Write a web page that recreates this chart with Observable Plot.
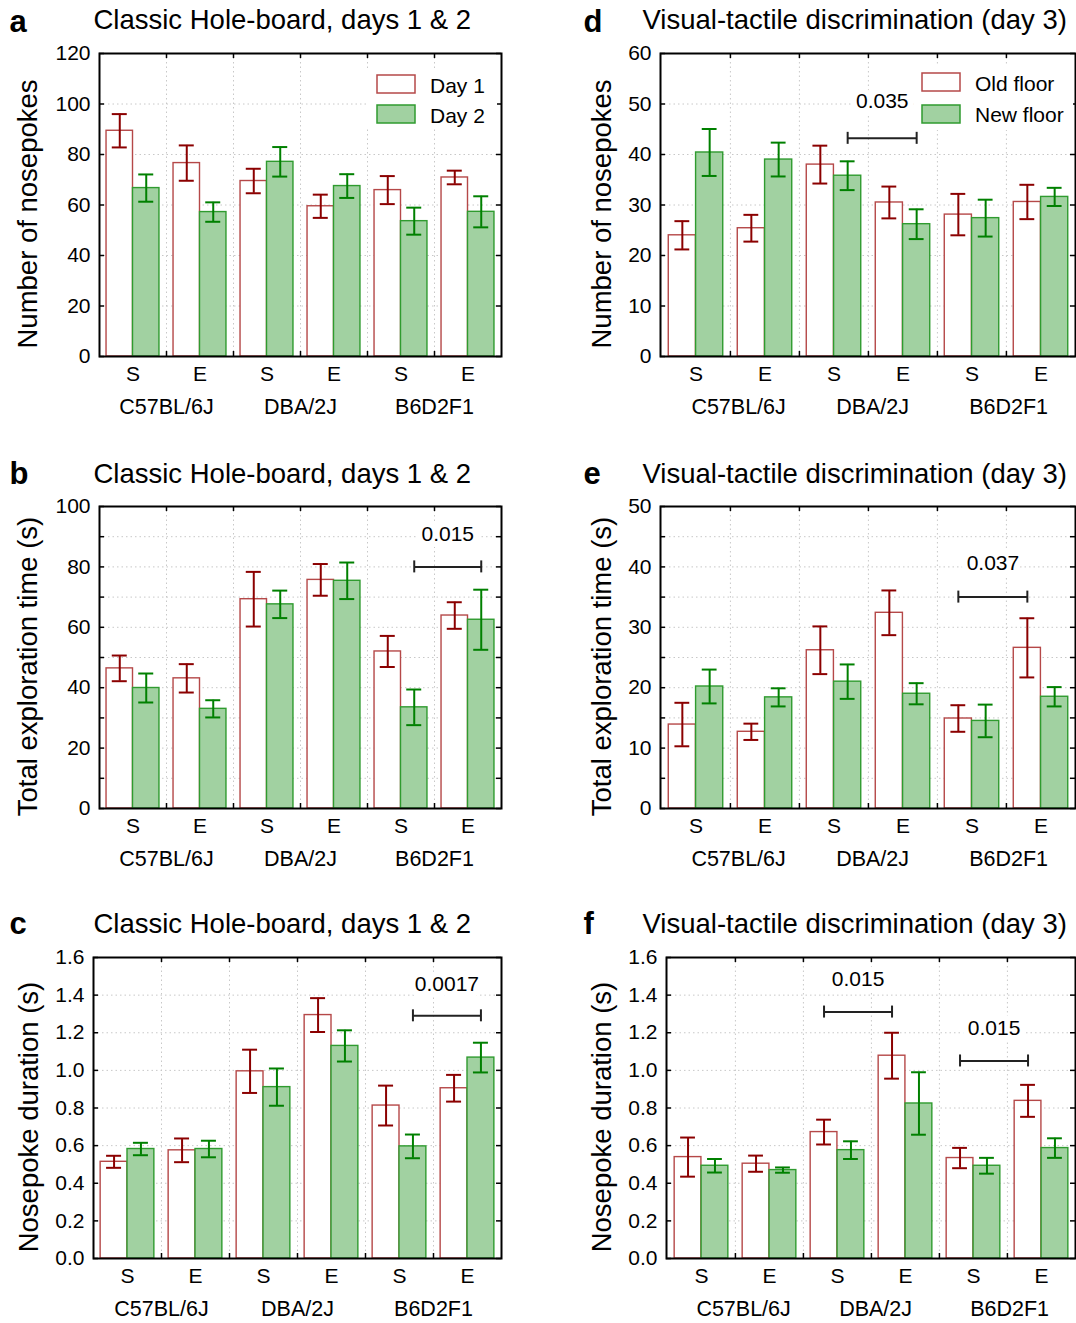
<!DOCTYPE html>
<html>
<head>
<meta charset="utf-8">
<script src="https://cdn.jsdelivr.net/npm/d3@7"></script>
<script src="https://cdn.jsdelivr.net/npm/@observablehq/plot@0.6"></script>
<style>
  html, body { margin: 0; padding: 0; background: #fff; }
  #root { position: relative; width: 1076px; height: 1323px; overflow: hidden; }
  .panel { position: absolute; }
</style>
</head>
<body>
<div id="root"></div>
<script>
// ---------------- data ----------------
const strains = ["C57BL/6J", "DBA/2J", "B6D2F1"];
const housing = ["S", "E"];
const seriesHB = ["Day 1", "Day 2"];
const seriesVT = ["Old floor", "New floor"];

// (a) Classic hole-board: number of nosepokes
const aDay1 = [89.4, 76.6, 69.5, 59.5, 65.9, 70.9];
const aDay1Sem = [6.6, 7.0, 4.85, 4.6, 5.55, 2.7];
const aDay2 = [66.7, 57.2, 77.1, 67.5, 53.6, 57.3];
const aDay2Sem = [5.4, 3.85, 5.85, 4.7, 5.35, 6.15];

// (b) Classic hole-board: total exploration time (s)
const bDay1 = [46.4, 43.1, 69.3, 75.7, 52.0, 63.9];
const bDay1Sem = [4.25, 4.7, 9.05, 5.25, 5.15, 4.4];
const bDay2 = [39.9, 33.0, 67.6, 75.4, 33.5, 62.5];
const bDay2Sem = [4.8, 2.85, 4.55, 6.05, 5.9, 9.95];

// (c) Classic hole-board: nosepoke duration (s)
const cDay1 = [0.514, 0.575, 0.995, 1.294, 0.813, 0.905];
const cDay1Sem = [0.032, 0.063, 0.115, 0.09, 0.106, 0.071];
const cDay2 = [0.582, 0.582, 0.911, 1.130, 0.596, 1.068];
const cDay2Sem = [0.033, 0.044, 0.099, 0.083, 0.063, 0.079];

// (d) Visual-tactile: number of nosepokes
const dOld = [24.0, 25.4, 38.0, 30.5, 28.1, 30.6];
const dOldSem = [2.8, 2.65, 3.75, 3.15, 4.1, 3.4];
const dNew = [40.4, 39.0, 35.8, 26.2, 27.4, 31.6];
const dNewSem = [4.65, 3.35, 2.85, 2.95, 3.65, 1.8];

// (e) Visual-tactile: total exploration time (s)
const eOld = [13.9, 12.7, 26.2, 32.4, 14.9, 26.6];
const eOldSem = [3.6, 1.35, 3.95, 3.7, 2.2, 4.9];
const eNew = [20.2, 18.4, 21.0, 19.0, 14.5, 18.5];
const eNewSem = [2.8, 1.5, 2.85, 1.75, 2.7, 1.6];

// (f) Visual-tactile: nosepoke duration (s)
const fOld = [0.539, 0.504, 0.672, 1.078, 0.534, 0.838];
const fOldSem = [0.104, 0.043, 0.066, 0.122, 0.054, 0.085];
const fNew = [0.493, 0.470, 0.576, 0.824, 0.493, 0.587];
const fNewSem = [0.036, 0.014, 0.047, 0.166, 0.042, 0.052];

// axis ticks
const ticksA = [0, 20, 40, 60, 80, 100, 120];
const ticksB = [0, 20, 40, 60, 80, 100];
const gridB = [0, 10, 20, 30, 40, 50, 60, 70, 80, 90, 100];
const ticksC = [0, 0.2, 0.4, 0.6, 0.8, 1.0, 1.2, 1.4, 1.6];
const ticksD = [0, 10, 20, 30, 40, 50, 60];
const ticksE = [0, 10, 20, 30, 40, 50];
const gridE = [0, 5, 10, 15, 20, 25, 30, 35, 40, 45, 50];
const ticksF = [0, 0.2, 0.4, 0.6, 0.8, 1.0, 1.2, 1.4, 1.6];

// significance brackets (series 1 = open bars, 2 = green bars)
const bracketsB = [{from: "B6D2F1|S", to: "B6D2F1|E", series: 2, y: 80, label: "0.015"}];
const bracketsC = [{from: "B6D2F1|S", to: "B6D2F1|E", series: 2, y: 1.29, label: "0.0017"}];
const bracketsD = [{from: "DBA/2J|S", to: "DBA/2J|E", series: 2, y: 43.2, label: "0.035"}];
const bracketsE = [{from: "B6D2F1|S", to: "B6D2F1|E", series: 1, y: 35, label: "0.037"}];
const bracketsF = [
  {from: "DBA/2J|S", to: "DBA/2J|E", series: 1, y: 1.31, label: "0.015"},
  {from: "B6D2F1|S", to: "B6D2F1|E", series: 1, y: 1.05, label: "0.015"}
];

// ---------------- styling ----------------
const FONT = "'Liberation Sans', Arial, Helvetica, sans-serif";
const C = {
  openStroke: "#b54848",
  openErr: "#8b0000",
  greenFill: "#a1d1a1",
  greenStroke: "#2f9b2f",
  greenErr: "#008000",
  grid: "#c8c8c8",
  bracket: "#222"
};

const keys = strains.flatMap(s => housing.map(h => s + "|" + h));

const panels = [
  {letter: "a", title: "Classic Hole-board, days 1 & 2", ylabel: "Number of nosepokes",
   ymax: 120, ticks: ticksA, grid: ticksA, fmt: d3.format("d"),
   s1: aDay1, e1: aDay1Sem, s2: aDay2, e2: aDay2Sem, brackets: [], legend: seriesHB,
   box: [0, 0, 540, 440], frame: [99, 53, 501, 356], titlePos: [93, 28], letterPos: [9, 31], ylabelX: 28,
   strainShift: [0, 0, 0], labelLift: 33,
   legendBox: [366, 69, 131, 60], sw: [377, 75, 38, 18, 105], txt: [430, 93, 123]},
  {letter: "d", title: "Visual-tactile discrimination (day 3)", ylabel: "Number of nosepokes",
   ymax: 60, ticks: ticksD, grid: ticksD, fmt: d3.format("d"),
   s1: dOld, e1: dOldSem, s2: dNew, e2: dNewSem, brackets: bracketsD, legend: seriesVT,
   box: [540, 0, 536, 440], frame: [660, 53, 1075, 356], titlePos: [642, 28], letterPos: [583, 31], ylabelX: 602,
   strainShift: [8, 4, 2], labelLift: 37,
   legendBox: [915, 66, 158, 64], sw: [922, 73, 38, 18, 105], txt: [975, 91, 122]},
  {letter: "b", title: "Classic Hole-board, days 1 & 2", ylabel: "Total exploration time (s)",
   ymax: 100, ticks: ticksB, grid: gridB, fmt: d3.format("d"),
   s1: bDay1, e1: bDay1Sem, s2: bDay2, e2: bDay2Sem, brackets: bracketsB, legend: null,
   box: [0, 440, 540, 440], frame: [99, 506, 501, 808], titlePos: [93, 482], letterPos: [9, 483], ylabelX: 28,
   strainShift: [0, 0, 0], labelLift: 33},
  {letter: "e", title: "Visual-tactile discrimination (day 3)", ylabel: "Total exploration time (s)",
   ymax: 50, ticks: ticksE, grid: gridE, fmt: d3.format("d"),
   s1: eOld, e1: eOldSem, s2: eNew, e2: eNewSem, brackets: bracketsE, legend: null,
   box: [540, 440, 536, 440], frame: [660, 506, 1075, 808], titlePos: [642, 482], letterPos: [583, 483], ylabelX: 602,
   strainShift: [8, 4, 2], labelLift: 34},
  {letter: "c", title: "Classic Hole-board, days 1 & 2", ylabel: "Nosepoke duration (s)",
   ymax: 1.6, ticks: ticksC, grid: ticksC, fmt: d3.format(".1f"),
   s1: cDay1, e1: cDay1Sem, s2: cDay2, e2: cDay2Sem, brackets: bracketsC, legend: null,
   box: [0, 880, 540, 443], frame: [93, 957, 501, 1258], titlePos: [93, 932], letterPos: [9, 933], ylabelX: 29,
   strainShift: [0, 0, 0], labelLift: 32},
  {letter: "f", title: "Visual-tactile discrimination (day 3)", ylabel: "Nosepoke duration (s)",
   ymax: 1.6, ticks: ticksF, grid: ticksF, fmt: d3.format(".1f"),
   s1: fOld, e1: fOldSem, s2: fNew, e2: fNewSem, brackets: bracketsF, legend: null,
   box: [540, 880, 536, 443], frame: [666, 957, 1075, 1258], titlePos: [642, 932], letterPos: [583, 933], ylabelX: 602,
   strainShift: [8, 4, 2], labelLift: 33}
];

function makePanel(cfg) {
  const [bx, by, bwid, bht] = cfg.box;
  const [fx0, fy0, fx1, fy1] = cfg.frame;
  const mL = fx0 - bx, mT = fy0 - by, mR = bx + bwid - fx1, mB = by + bht - fy1;
  const pw = fx1 - fx0, ph = fy1 - fy0;
  const bw = pw / keys.length;
  const pad = 0.105 * bw;
  const barW = (bw - 2 * pad) / 2;
  const off = [-(bw / 2 - pad - barW / 2), (bw / 2 - pad - barW / 2)];
  const cap = 7.5;
  const u = cfg.ymax / ph; // data units per pixel
  const rows = keys.map((k, i) => ({key: k, m1: cfg.s1[i], e1: cfg.e1[i], m2: cfg.s2[i], e2: cfg.e2[i]}));

  const errMarks = (m, e, color, o) => [
    Plot.ruleX(rows, {x: "key", y1: d => d[m] - d[e], y2: d => d[m] + d[e], dx: o, stroke: color, strokeWidth: 2}),
    Plot.tickY(rows, {x: "key", y: d => d[m] + d[e], insetLeft: bw / 2 + o - cap, insetRight: bw / 2 - o - cap, stroke: color, strokeWidth: 2}),
    Plot.tickY(rows, {x: "key", y: d => d[m] - d[e], insetLeft: bw / 2 + o - cap, insetRight: bw / 2 - o - cap, stroke: color, strokeWidth: 2})
  ];

  const bracketMarks = cfg.brackets.flatMap(b => {
    const o = off[b.series - 1];
    return [
      Plot.link([b], {x1: "from", x2: "to", y1: "y", y2: "y", dx: o, stroke: C.bracket, strokeWidth: 2}),
      Plot.ruleX([b.from, b.to], {x: d => d, y1: () => b.y - 6 * u, y2: () => b.y + 6 * u, dx: o, stroke: C.bracket, strokeWidth: 2}),
      Plot.text([b], {x: "from", y: "y", text: "label", dx: o + bw / 2, dy: -cfg.labelLift, fontSize: 21,
        fill: "black", stroke: "white", strokeWidth: 12, strokeLinejoin: "round", lineAnchor: "middle", textAnchor: "middle"})
    ];
  });

  const tickLen = 5 * u;

  const strainMarks = strains.map((s, i) =>
    Plot.text([s], {text: d => d, x: d => d + "|S", dx: bw / 2 + cfg.strainShift[i], frameAnchor: "bottom", dy: 57,
      lineAnchor: "bottom", textAnchor: "middle", fontSize: 21.5}));

  const chart = Plot.plot({
    width: bwid,
    height: bht,
    marginLeft: mL,
    marginRight: mR,
    marginTop: mT,
    marginBottom: mB,
    style: {fontFamily: FONT, fontSize: "21px", background: "transparent", overflow: "visible", color: "black"},
    x: {type: "band", domain: keys, padding: 0, tickSize: 0, tickPadding: 10, tickFormat: d => d.split("|")[1], label: null},
    y: {domain: [0, cfg.ymax], ticks: cfg.ticks, tickSize: 0, tickPadding: 9, tickFormat: cfg.fmt, label: null},
    marks: [
      Plot.ruleY(cfg.grid, {y: d => d, stroke: C.grid, strokeDasharray: "1.5,3"}),
      Plot.ruleX(keys.slice(1), {x: d => d, dx: -bw / 2, stroke: C.grid, strokeDasharray: "1.5,3"}),
      Plot.barY(rows, {x: "key", y: "m1", fill: "white", stroke: C.openStroke, strokeWidth: 1.4, insetLeft: pad, insetRight: bw / 2}),
      Plot.barY(rows, {x: "key", y: "m2", fill: C.greenFill, stroke: C.greenStroke, strokeWidth: 1.4, insetLeft: bw / 2, insetRight: pad}),
      ...errMarks("m1", "e1", C.openErr, off[0]),
      ...errMarks("m2", "e2", C.greenErr, off[1]),
      ...bracketMarks,
      // inward ticks on the frame
      Plot.tickY(cfg.grid, {y: d => d, insetRight: pw - 5, stroke: "black", strokeWidth: 1.5}),
      Plot.tickY(cfg.grid, {y: d => d, insetLeft: pw - 5, stroke: "black", strokeWidth: 1.5}),
      Plot.ruleX(keys.slice(1), {x: d => d, dx: -bw / 2, y1: () => 0, y2: () => tickLen, stroke: "black", strokeWidth: 1.5}),
      Plot.ruleX(keys.slice(1), {x: d => d, dx: -bw / 2, y1: () => cfg.ymax - tickLen, y2: () => cfg.ymax, stroke: "black", strokeWidth: 1.5}),
      Plot.frame({stroke: "black", strokeWidth: 2}),
      // strain labels under the S/E tick labels
      ...strainMarks,
      // y label
      Plot.text([cfg.ylabel], {text: d => d, frameAnchor: "left", rotate: -90, dx: cfg.ylabelX - fx0, dy: 9, fontSize: 27.5, lineAnchor: "middle", textAnchor: "middle"}),
      // title and panel letter
      Plot.text([cfg.title], {text: d => d, frameAnchor: "top-left", dx: cfg.titlePos[0] - fx0, dy: cfg.titlePos[1] - fy0, textAnchor: "start", lineAnchor: "bottom", fontSize: 27.5}),
      Plot.text([cfg.letter], {text: d => d, frameAnchor: "top-left", dx: cfg.letterPos[0] - fx0, dy: cfg.letterPos[1] - fy0, textAnchor: "start", lineAnchor: "bottom", fontSize: 31, fontWeight: "bold"})
    ]
  });

  if (cfg.legend) {
    const svg = d3.select(chart);
    const g = svg.append("g").attr("font-family", FONT).attr("font-size", 21).attr("text-anchor", "start");
    const [lx, ly, lw, lh] = cfg.legendBox;
    g.append("rect").attr("x", lx - bx).attr("y", ly - by).attr("width", lw).attr("height", lh).attr("fill", "white");
    const [sx, sy1, sw, sh, sy2] = cfg.sw;
    g.append("rect").attr("x", sx - bx).attr("y", sy1 - by).attr("width", sw).attr("height", sh)
      .attr("fill", "white").attr("stroke", C.openStroke).attr("stroke-width", 1.5);
    g.append("rect").attr("x", sx - bx).attr("y", sy2 - by).attr("width", sw).attr("height", sh)
      .attr("fill", C.greenFill).attr("stroke", C.greenStroke).attr("stroke-width", 1.5);
    const [tx, ty1, ty2] = cfg.txt;
    g.append("text").attr("x", tx - bx).attr("y", ty1 - by).attr("fill", "black").attr("text-anchor", "start").text(cfg.legend[0]);
    g.append("text").attr("x", tx - bx).attr("y", ty2 - by).attr("fill", "black").attr("text-anchor", "start").text(cfg.legend[1]);
  }

  const holder = document.createElement("div");
  holder.className = "panel";
  holder.style.left = bx + "px";
  holder.style.top = by + "px";
  holder.style.width = bwid + "px";
  holder.style.height = bht + "px";
  holder.appendChild(chart);
  return holder;
}

const root = document.getElementById("root");
for (const p of panels) root.appendChild(makePanel(p));
</script>
</body>
</html>
